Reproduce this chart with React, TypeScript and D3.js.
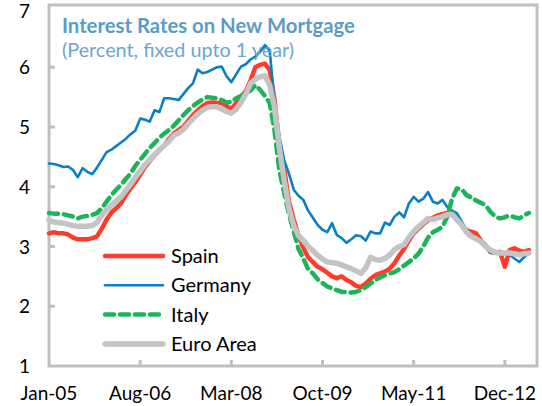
import { useEffect, useRef } from 'react'
import * as d3 from 'd3'

// monthly data, Jan-05 .. May-13
const spain = [
  3.22, 3.24, 3.22, 3.22, 3.20, 3.15, 3.12, 3.12, 3.12, 3.14, 3.17, 3.30, 3.45, 3.57, 3.64, 3.72, 3.86, 3.97, 4.08, 4.20,
  4.33, 4.43, 4.53, 4.61, 4.69, 4.80, 4.89, 4.95, 5.00, 5.10, 5.20, 5.28, 5.35, 5.40, 5.41, 5.40, 5.40, 5.35, 5.30, 5.40,
  5.50, 5.60, 5.78, 6.00, 6.04, 6.06, 5.95, 5.45, 4.70, 4.30, 3.75, 3.45, 3.18, 2.98, 2.82, 2.74, 2.66, 2.62, 2.56, 2.50,
  2.47, 2.50, 2.44, 2.40, 2.34, 2.32, 2.38, 2.46, 2.52, 2.55, 2.58, 2.63, 2.72, 2.85, 2.96, 3.10, 3.22, 3.30, 3.37, 3.44,
  3.48, 3.52, 3.54, 3.56, 3.55, 3.47, 3.36, 3.27, 3.25, 3.22, 3.10, 3.02, 2.91, 2.90, 2.91, 2.66, 2.94, 2.97, 2.93, 2.91,
  2.94,
]
const germany = [
  4.39, 4.38, 4.36, 4.33, 4.34, 4.28, 4.16, 4.31, 4.25, 4.21, 4.32, 4.45, 4.58, 4.62, 4.68, 4.74, 4.80, 4.88, 4.94, 5.14,
  5.12, 5.09, 5.28, 5.25, 5.48, 5.48, 5.47, 5.45, 5.55, 5.65, 5.73, 5.96, 5.90, 5.92, 5.96, 6.00, 6.01, 5.85, 5.75, 5.88,
  6.01, 6.05, 6.13, 6.18, 6.26, 6.37, 6.28, 5.40, 4.85, 4.45, 4.22, 3.95, 3.85, 3.78, 3.60, 3.48, 3.36, 3.28, 3.24, 3.39,
  3.19, 3.14, 3.06, 3.12, 3.19, 3.17, 3.10, 3.25, 3.22, 3.22, 3.40, 3.36, 3.50, 3.57, 3.49, 3.72, 3.83, 3.75, 3.80, 3.91,
  3.75, 3.72, 3.78, 3.66, 3.60, 3.56, 3.42, 3.27, 3.20, 3.14, 3.08, 3.00, 2.89, 2.88, 2.89, 2.87, 2.86, 2.80, 2.74, 2.82,
  2.89,
]
const italy = [
  3.56, 3.55, 3.55, 3.54, 3.52, 3.50, 3.47, 3.50, 3.51, 3.53, 3.56, 3.64, 3.75, 3.86, 3.95, 4.03, 4.13, 4.22, 4.35, 4.45,
  4.55, 4.65, 4.73, 4.82, 4.89, 4.95, 5.02, 5.11, 5.20, 5.28, 5.35, 5.41, 5.46, 5.50, 5.49, 5.48, 5.45, 5.41, 5.42, 5.48,
  5.52, 5.57, 5.61, 5.70, 5.62, 5.52, 5.40, 4.94, 4.28, 3.90, 3.55, 3.25, 2.96, 2.80, 2.62, 2.55, 2.45, 2.39, 2.33, 2.30,
  2.27, 2.24, 2.24, 2.23, 2.24, 2.27, 2.32, 2.38, 2.44, 2.48, 2.52, 2.55, 2.57, 2.62, 2.68, 2.74, 2.80, 2.88, 3.00, 3.15,
  3.24, 3.28, 3.33, 3.50, 3.80, 3.97, 3.96, 3.86, 3.82, 3.77, 3.73, 3.69, 3.58, 3.50, 3.47, 3.49, 3.52, 3.49, 3.47, 3.52,
  3.56,
]
const euroArea = [
  3.44, 3.41, 3.40, 3.39, 3.37, 3.35, 3.34, 3.34, 3.34, 3.35, 3.40, 3.52, 3.62, 3.69, 3.76, 3.83, 3.94, 4.04, 4.16, 4.26,
  4.37, 4.45, 4.54, 4.62, 4.69, 4.76, 4.86, 4.90, 4.96, 5.05, 5.14, 5.22, 5.28, 5.33, 5.34, 5.34, 5.30, 5.26, 5.23, 5.30,
  5.41, 5.55, 5.73, 5.80, 5.84, 5.86, 5.70, 5.33, 4.66, 4.11, 3.64, 3.35, 3.18, 3.10, 3.00, 2.93, 2.85, 2.79, 2.74, 2.73,
  2.72, 2.69, 2.66, 2.63, 2.59, 2.55, 2.64, 2.82, 2.78, 2.77, 2.80, 2.86, 2.95, 3.00, 3.03, 3.15, 3.25, 3.33, 3.40, 3.47,
  3.45, 3.48, 3.50, 3.53, 3.54, 3.45, 3.36, 3.24, 3.17, 3.13, 3.08, 3.00, 2.94, 2.90, 2.89, 2.89, 2.89, 2.88, 2.86, 2.88,
  2.89,
]

const xTickLabels = ['Jan-05', 'Aug-06', 'Mar-08', 'Oct-09', 'May-11', 'Dec-12']
const xTickMonths = [0, 19, 38, 57, 76, 95]
const yTicks = [1, 2, 3, 4, 5, 6, 7]

const series = [
  { name: 'Spain', values: spain, color: '#ff3b2b', width: 4.5, dash: null },
  { name: 'Germany', values: germany, color: '#0a80c4', width: 2.6, dash: null },
  { name: 'Italy', values: italy, color: '#1db35a', width: 4.5, dash: '9,6' },
  { name: 'Euro Area', values: euroArea, color: '#c4c4c4', width: 5.5, dash: null },
]

const W = 542
const H = 406
const FONT = 'Lato, "Open Sans", sans-serif'

export default function App() {
  const ref = useRef<SVGSVGElement>(null)

  useEffect(() => {
    if (!ref.current) return
    const svg = d3.select(ref.current)
    svg.selectAll('*').remove()

    const left = 49, right = 537, top = 5, bottom = 366
    const x = d3.scaleLinear().domain([0, 101.7]).range([left, right])
    const y = d3.scaleLinear().domain([1, 7]).range([bottom, 7.5])

    const axisColor = '#bfbfbf'

    // frame
    svg.append('rect')
      .attr('x', left).attr('y', top)
      .attr('width', right - left).attr('height', bottom - top)
      .attr('fill', 'none').attr('stroke', axisColor).attr('stroke-width', 3)

    // y ticks
    svg.selectAll('.yt').data(yTicks.slice(1, -1)).enter().append('line')
      .attr('x1', left).attr('x2', left + 6)
      .attr('y1', d => y(d)).attr('y2', d => y(d))
      .attr('stroke', axisColor).attr('stroke-width', 3)

    svg.selectAll('.yl').data(yTicks).enter().append('text')
      .attr('x', 30).attr('y', d => Math.max(y(d) + 7, 18))
      .attr('text-anchor', 'end')
      .attr('font-family', FONT).attr('font-size', 19)
      .attr('fill', '#000')
      .text(d => d)

    // x ticks
    svg.selectAll('.xt').data(xTickMonths.slice(1)).enter().append('line')
      .attr('x1', d => x(d)).attr('x2', d => x(d))
      .attr('y1', bottom).attr('y2', bottom - 6)
      .attr('stroke', axisColor).attr('stroke-width', 3)

    svg.selectAll('.xl').data(xTickMonths).enter().append('text')
      .attr('x', d => x(d)).attr('y', 400)
      .attr('text-anchor', 'middle')
      .attr('font-family', FONT).attr('font-size', 19)
      .attr('fill', '#000')
      .text((_, i) => xTickLabels[i])

    // lines
    const line = d3.line<number>()
      .x((_, i) => x(i))
      .y(d => y(d))
      .curve(d3.curveLinear)

    series.forEach(s => {
      const p = svg.append('path')
        .datum(s.values)
        .attr('d', line)
        .attr('fill', 'none')
        .attr('stroke', s.color)
        .attr('stroke-width', s.width)
        .attr('stroke-linejoin', 'round')
        .attr('stroke-linecap', 'round')
      if (s.dash) p.attr('stroke-dasharray', s.dash)
    })

    // title
    svg.append('text')
      .attr('x', 62).attr('y', 33)
      .attr('font-family', FONT).attr('font-size', 20.3).attr('font-weight', 'bold')
      .attr('fill', '#5a9cc6')
      .text('Interest Rates on New Mortgage')
    svg.append('text')
      .attr('x', 62).attr('y', 57)
      .attr('font-family', FONT).attr('font-size', 19.8)
      .attr('fill', '#6ba6cf')
      .text('(Percent, fixed upto 1 year)')

    // legend
    const lg = svg.append('g')
    series.forEach((s, i) => {
      const ly = 256 + i * 29.3
      const l = lg.append('line')
        .attr('x1', 105).attr('x2', 163)
        .attr('y1', ly).attr('y2', ly)
        .attr('stroke', s.color)
        .attr('stroke-width', s.width)
        .attr('stroke-linecap', 'round')
      if (s.dash) l.attr('stroke-dasharray', s.dash)
      lg.append('text')
        .attr('x', 171).attr('y', ly + 7)
        .attr('font-family', FONT).attr('font-size', 20)
        .attr('fill', '#000')
        .text(s.name)
    })
  }, [])

  return (
    <svg ref={ref} width={W} height={H}
      style={{ position: 'absolute', left: 0, top: 0, background: '#fff' }} />
  )
}
